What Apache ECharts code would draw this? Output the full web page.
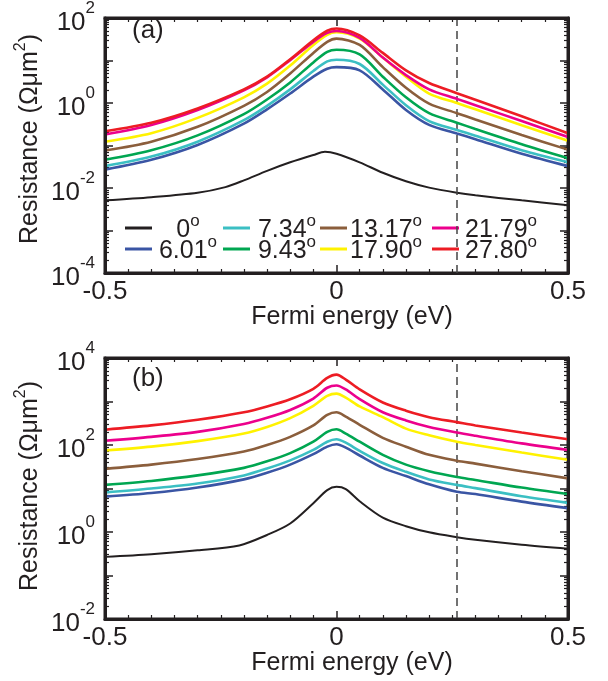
<!DOCTYPE html>
<html>
<head>
<meta charset="utf-8">
<script src="https://cdn.jsdelivr.net/npm/echarts@6/dist/echarts.min.js"></script>
<style>
  html, body { margin: 0; padding: 0; background: #fff; }
  #panelA { position: absolute; left: 0; top: 0; width: 608px; height: 340px; }
  #panelB { position: absolute; left: 0; top: 340px; width: 608px; height: 341px; }
</style>
</head>
<body>
<div id="panelA"></div>
<div id="panelB"></div>
<script>
// 角度标签 (legend order follows the picture, row by row per column)
var angleNames = ['0°', '6.01°', '7.34°', '9.43°', '13.17°', '17.90°', '21.79°', '27.80°'];
var lineColors = ['#231f20', '#3a55a4', '#3bbfc3', '#00a651', '#8b5e3c', '#fff200', '#ec008c', '#ed1c24'];

// panel (a)
var xA = [-0.5, -0.4, -0.3, -0.2, -0.15, -0.1, -0.05, -0.02, 0, 0.05, 0.1, 0.15, 0.2, 0.26, 0.3, 0.4, 0.5];
var xA0 = [-0.5, -0.4, -0.3, -0.24, -0.2, -0.15, -0.1, -0.05, -0.025, 0, 0.05, 0.1, 0.15, 0.2, 0.26, 0.3, 0.4, 0.5];
var a0 = [0.00512, 0.00608, 0.00773, 0.0105, 0.0151, 0.0253, 0.0402, 0.0597, 0.0710, 0.0640, 0.0402, 0.0228, 0.0144, 0.0102, 0.00773, 0.00673, 0.00512, 0.00395];
var a601 = [0.0271, 0.0461, 0.103, 0.327, 0.710, 1.67, 4.16, 6.40, 6.97, 5.87, 2.09, 0.685, 0.305, 0.192, 0.141, 0.064, 0.0327];
var a734 = [0.0327, 0.0548, 0.123, 0.395, 0.857, 2.09, 5.67, 9.50, 10.4, 8.28, 2.71, 0.887, 0.376, 0.232, 0.170, 0.0773, 0.0402];
var a943 = [0.0461, 0.0773, 0.173, 0.548, 1.21, 3.05, 9.02, 15.9, 17.9, 13.9, 4.16, 1.36, 0.577, 0.344, 0.244, 0.107, 0.0503];
var a1317 = [0.076, 0.123, 0.275, 0.857, 1.82, 4.94, 15.1, 27.5, 32.7, 23.2, 6.97, 2.28, 0.966, 0.577, 0.409, 0.176, 0.080];
var a1790 = [0.123, 0.195, 0.446, 1.36, 2.85, 7.60, 23.2, 40.2, 46.1, 32.7, 11.7, 4.16, 1.67, 1.0, 0.710, 0.300, 0.129];
var a2179 = [0.182, 0.305, 0.685, 1.99, 4.02, 10.2, 27.5, 44.6, 49.4, 33.9, 11.7, 4.54, 2.09, 1.25, 0.887, 0.376, 0.159];
var a2780 = [0.217, 0.344, 0.746, 2.09, 4.16, 10.7, 30.0, 50.3, 56.7, 38.9, 15.1, 5.87, 2.95, 1.70, 1.19, 0.486, 0.195];

// panel (b)
var xB = [-0.5, -0.4, -0.3, -0.2, -0.15, -0.1, -0.05, -0.02, 0, 0.02, 0.05, 0.1, 0.15, 0.2, 0.26, 0.3, 0.4, 0.5];
var xB0 = [-0.5, -0.4, -0.3, -0.21, -0.15, -0.1, -0.05, -0.02, 0, 0.02, 0.05, 0.1, 0.15, 0.2, 0.26, 0.3, 0.4, 0.5];
var b0 = [0.268, 0.308, 0.379, 0.492, 0.855, 1.57, 4.59, 9.17, 10.9, 9.66, 5.09, 2.14, 1.36, 0.982, 0.758, 0.660, 0.509, 0.414];
var b601 = [6.49, 7.85, 10.5, 16.2, 23.0, 35.4, 61.5, 91.6, 104, 87.1, 57.4, 29.8, 19.3, 12.5, 8.41, 7.45, 5.00, 3.54];
var b734 = [8.13, 10.0, 13.0, 20.0, 28.8, 44.4, 77.1, 119, 136, 113, 73.3, 38.5, 24.2, 16.2, 12.1, 10.2, 6.61, 4.67];
var b943 = [12.1, 14.9, 20.0, 29.8, 42.1, 64.9, 119, 200, 230, 183, 119, 59.4, 35.4, 25.0, 18.3, 15.7, 10.5, 7.45];
var b1317 = [28.3, 35.4, 47.5, 70.8, 100, 154, 282, 492, 565, 451, 292, 146, 91.6, 59.4, 43.6, 37.3, 25.0, 17.1];
var b1790 = [74.5, 91.6, 123, 183, 259, 414, 798, 1343, 1514, 1231, 771, 436, 238, 168, 119, 100, 67.1, 45.9];
var b2179 = [125, 154, 200, 303, 421, 638, 1169, 2070, 2336, 1897, 1130, 565, 366, 259, 193, 163, 109, 77.1];
var b2780 = [225, 282, 379, 565, 771, 1130, 1963, 3478, 4137, 3192, 1897, 949, 615, 436, 336, 282, 193, 136];

var fermiMark = 0.26;
var xRange = [-0.5, 0.5];
var yRangeA = [1e-4, 1e2];
var yRangeB = [1e-2, 1e4];

var FONT = "'Liberation Sans', Arial, Helvetica, sans-serif";
var INK = '#231f20';

function pairs(xs, ys) {
  return xs.map(function (x, i) { return [x, ys[i]]; });
}

function makeSeries(xs, xs0, ys0, rest, yRange) {
  var out = [];
  var all = [ys0].concat(rest);
  all.forEach(function (ys, k) {
    var s = {
      name: angleNames[k],
      type: 'line',
      data: pairs(k === 0 ? xs0 : xs, ys),
      showSymbol: false,
      symbol: 'none',
      smooth: 0.3,
      z: 3 + k,
      lineStyle: { color: lineColors[k], width: k === 0 ? 2 : 2.6 },
      itemStyle: { color: lineColors[k] },
      silent: true
    };
    if (k === 0) {
      // dashed Fermi level marker
      s.markLine = {
        silent: true,
        symbol: ['none', 'none'],
        label: { show: false },
        lineStyle: { color: '#444', type: [8, 5], width: 1.5 },
        data: [{ xAxis: fermiMark }]
      };
    }
    if (k === all.length - 1) {
      // box frame drawn on the axis limits, on top of everything
      s.clip = false;
      s.markLine = {
        silent: true,
        z: 20,
        symbol: ['none', 'none'],
        label: { show: false },
        lineStyle: { color: INK, type: 'solid', width: 3 },
        data: [
          { xAxis: xRange[0] }, { xAxis: xRange[1] },
          { yAxis: yRange[0] }, { yAxis: yRange[1] }
        ]
      };
    }
    out.push(s);
  });
  return out;
}

function mkX(pos, labels) {
  return {
    type: 'value', min: xRange[0], max: xRange[1], interval: 0.5, position: pos,
    axisLine: { show: true, onZero: false, lineStyle: { color: INK, width: 3 } },
    axisTick: { show: true, inside: true, length: 8, lineStyle: { color: INK, width: 1.5 } },
    minorTick: { show: true, splitNumber: 10, length: 4, lineStyle: { color: INK, width: 1.2 } },
    splitLine: { show: false },
    axisLabel: {
      show: labels, margin: 6, color: INK, fontSize: 26, fontFamily: FONT,
      formatter: function (v) { return v === 0 ? '0' : String(v); }
    }
  };
}

function mkY(pos, labels, ext) {
  return {
    type: 'log', logBase: 10, min: ext[0], max: ext[1], splitNumber: 6, position: pos,
    axisLine: { show: true, onZero: false, lineStyle: { color: INK, width: 3 } },
    axisTick: { show: true, inside: true, length: 8, lineStyle: { color: INK, width: 1.5 } },
    minorTick: { show: true, splitNumber: 9, length: 4, lineStyle: { color: INK, width: 1.2 } },
    splitLine: { show: false },
    axisLabel: {
      show: labels, margin: 10, color: INK, fontFamily: FONT,
      formatter: function (v) {
        var e = Math.round(Math.log(v) / Math.LN10);
        if (e % 2 !== 0) return '';
        return '{b|10}{s|' + e + '}';
      },
      rich: {
        b: { fontSize: 26, lineHeight: 36, verticalAlign: 'bottom', fontFamily: FONT, color: INK },
        s: { fontSize: 17, lineHeight: 18, verticalAlign: 'top', fontFamily: FONT, color: INK }
      }
    }
  };
}

function legendCol(left, names, width) {
  return {
    orient: 'vertical',
    left: left,
    top: 213,
    padding: 0,
    itemGap: -9,
    itemWidth: 27,
    itemHeight: 3,
    icon: 'rect',
    selectedMode: false,
    data: names,
    formatter: function (name) {
      return '{n|' + name.replace('°', '') + '}{s|o}';
    },
    textStyle: {
      width: width,
      color: INK,
      rich: {
        n: { fontSize: 25, lineHeight: 30, verticalAlign: 'bottom', align: 'center', fontFamily: FONT, color: INK },
        s: { fontSize: 17, lineHeight: 13, verticalAlign: 'top', align: 'center', fontFamily: FONT, color: INK }
      }
    }
  };
}

function nameText(x, y, text, rot) {
  return {
    type: 'text', x: x, y: y, rotation: rot || 0, silent: true,
    style: {
      text: text, fill: INK, font: '25px ' + FONT,
      align: 'center', verticalAlign: 'middle',
      rich: {
        t: { fontSize: 25, lineHeight: 30, verticalAlign: 'bottom', fontFamily: FONT, fill: INK },
        s: { fontSize: 16, lineHeight: 16, verticalAlign: 'top', fontFamily: FONT, fill: INK }
      }
    }
  };
}

// one chart instance per panel
function panelOption(cfg) {
  return {
    backgroundColor: '#fff',
    animation: false,
    grid: [{ left: 105, top: cfg.top, width: 463, height: cfg.height, show: true, borderColor: INK, borderWidth: 3, backgroundColor: 'transparent' }],
    xAxis: [mkX('bottom', true), mkX('top', false)],
    yAxis: [mkY('left', true, cfg.range), mkY('right', false, cfg.range)],
    legend: cfg.legend,
    graphic: [
      nameText(352, cfg.top + cfg.height + 44, 'Fermi energy (eV)'),
      nameText(28, cfg.top + cfg.height / 2, '{t|Resistance (Ωμm}{s|2}{t|)}', Math.PI / 2),
      { type: 'text', left: 132, top: cfg.top + 13, silent: true, style: { text: cfg.tag, fill: INK, font: '26px ' + FONT } }
    ],
    series: cfg.series
  };
}

var chartA = echarts.init(document.getElementById('panelA'));
chartA.setOption(panelOption({
  top: 5, height: 268, range: yRangeA, tag: '(a)',
  legend: [
    legendCol(125, ['0°', '6.01°'], 62),
    legendCol(223, ['7.34°', '9.43°'], 64),
    legendCol(320, ['13.17°', '17.90°'], 68),
    legendCol(432, ['21.79°', '27.80°'], 74)
  ],
  series: makeSeries(xA, xA0, a0, [a601, a734, a943, a1317, a1790, a2179, a2780], yRangeA)
}));

var chartB = echarts.init(document.getElementById('panelB'));
chartB.setOption(panelOption({
  top: 13, height: 266, range: yRangeB, tag: '(b)',
  legend: [],
  series: makeSeries(xB, xB0, b0, [b601, b734, b943, b1317, b1790, b2179, b2780], yRangeB)
}));
</script>
</body>
</html>
